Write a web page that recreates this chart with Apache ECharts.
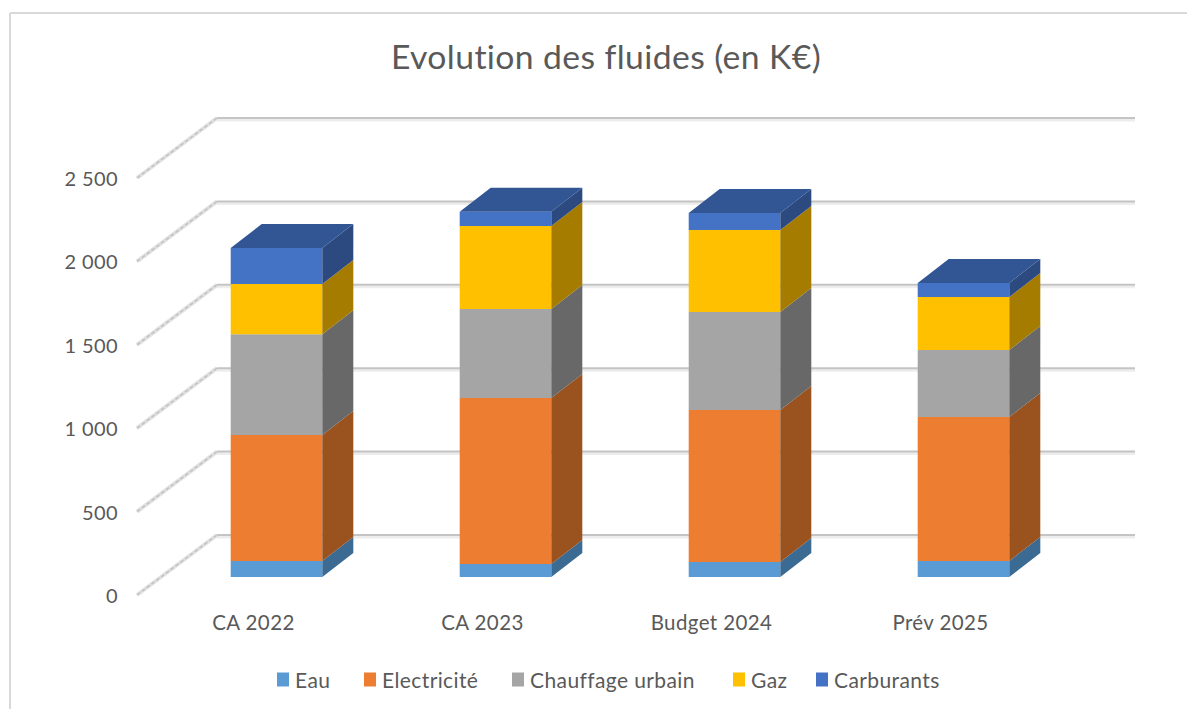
<!DOCTYPE html>
<html>
<head>
<meta charset="utf-8">
<title>Evolution des fluides</title>
<style>
  html, body { margin: 0; padding: 0; background: #fff; }
  #chart { width: 1187px; height: 709px; }
  #chart text { font-variant-ligatures: none; letter-spacing: 0.4px; }
</style>
<script src="https://cdn.jsdelivr.net/npm/echarts@6/dist/echarts.min.js"></script>
</head>
<body>
<div id="chart"></div>
<script>
const categories = ['CA 2022', 'CA 2023', 'Budget 2024', 'Prév 2025']
const yTicks = [0, 500, 1000, 1500, 2000, 2500]

const eau = [96, 78, 90, 96]
const electricite = [755, 995, 911, 863]
const chauffage = [605, 534, 588, 402]
const gaz = [300, 498, 492, 318]
const carburants = [216, 84, 102, 84]

const layers = [
  { name: 'Eau', values: eau, front: '#5b9bd5', side: '#3b6a93' },
  { name: 'Electricité', values: electricite, front: '#ed7d31', side: '#9a521f' },
  { name: 'Chauffage urbain', values: chauffage, front: '#a5a5a5', side: '#686868' },
  { name: 'Gaz', values: gaz, front: '#ffc000', side: '#a67c00' },
  { name: 'Carburants', values: carburants, front: '#4472c4', side: '#2c4a80', top: '#325594' }
]
const legendLeft = [272, 359, 507, 728, 811]

// floor/wall offsets of the fake 3D box
const wallDx = 80
const wallDy = -60
const wallWidth = 918
const barDx = 25
const barDy = -18
const depthDx = 31
const depthDy = -24

function renderWall(params, api) {
  const p = api.coord([0, api.value(0)])
  const x0 = params.coordSys.x
  const y0 = p[1]
  const bx = x0 + wallDx
  const by = y0 + wallDy
  return {
    type: 'group',
    children: [
      { type: 'line', shape: { x1: bx, y1: by + 2, x2: bx + wallWidth, y2: by + 2 }, style: { stroke: '#ededed', lineWidth: 3 } },
      { type: 'line', shape: { x1: bx, y1: by, x2: bx + wallWidth, y2: by }, style: { stroke: '#c4c4c4', lineWidth: 2 } },
      { type: 'line', shape: { x1: x0, y1: y0, x2: bx, y2: by }, style: { stroke: '#e2e2e2', lineWidth: 4 } },
      { type: 'line', shape: { x1: x0, y1: y0, x2: bx, y2: by }, style: { stroke: '#c2c2c2', lineWidth: 1.5, lineDash: [4, 2] } }
    ]
  }
}

function renderBar(layer) {
  return function(params, api) {
    const low = api.coord([api.value(0), api.value(1)])
    const high = api.coord([api.value(0), api.value(2)])
    const half = api.size([1, 0])[0] * 0.4 / 2
    const x1 = low[0] + barDx - half
    const x2 = low[0] + barDx + half
    const y1 = low[1] + barDy
    const y2 = high[1] + barDy
    const children = [
      { type: 'rect', shape: { x: x1, y: y2, width: x2 - x1, height: y1 - y2 }, style: { fill: layer.front } },
      {
        type: 'polygon',
        shape: { points: [[x2, y1], [x2 + depthDx, y1 + depthDy], [x2 + depthDx, y2 + depthDy], [x2, y2]] },
        style: { fill: layer.side }
      }
    ]
    if (layer.top) {
      children.push({
        type: 'polygon',
        shape: { points: [[x1, y2], [x1 + depthDx, y2 + depthDy], [x2 + depthDx, y2 + depthDy], [x2, y2]] },
        style: { fill: layer.top }
      })
    }
    return { type: 'group', children: children }
  }
}

const totals = categories.map(() => 0)
const barSeries = layers.map(layer => {
  const data = layer.values.map((v, i) => {
    const row = [i, totals[i], totals[i] + v]
    totals[i] += v
    return row
  })
  return {
    type: 'custom',
    name: layer.name,
    data: data,
    encode: { x: 0, y: [1, 2] },
    itemStyle: { color: layer.front },
    renderItem: renderBar(layer),
    z: 3
  }
})

const font = 'Lato, "Open Sans", sans-serif'
const chart = echarts.init(document.getElementById('chart'), null, { renderer: 'svg' })
chart.setOption({
  animation: false,
  backgroundColor: '#fff',
  textStyle: { fontFamily: font },
  title: {
    text: 'Evolution des fluides (en K€)',
    left: 601,
    top: 34,
    textAlign: 'center',
    textStyle: { color: '#595959', fontSize: 33.7, fontWeight: 'normal', fontFamily: font }
  },
  legend: layers.map((l, i) => ({
    data: [l.name],
    left: legendLeft[i],
    top: 664,
    icon: 'rect',
    itemWidth: 12,
    itemHeight: 14,
    itemStyle: { borderWidth: 0 },
    textStyle: { color: '#595959', fontSize: 21, fontFamily: font, padding: [0, 0, 0, 1] }
  })),
  grid: { left: 137, width: 916, top: 178, height: 417 },
  xAxis: {
    type: 'category',
    data: categories,
    axisLine: { show: false },
    axisTick: { show: false },
    splitLine: { show: false },
    axisLabel: { color: '#595959', fontSize: 20.5, margin: 16, padding: [0, 0, 0, 4], fontFamily: font }
  },
  yAxis: {
    type: 'value',
    min: 0,
    max: 2500,
    interval: 500,
    axisLine: { show: false },
    axisTick: { show: false },
    splitLine: { show: false },
    axisLabel: {
      color: '#595959',
      fontSize: 20,
      margin: 19,
      padding: [0, 0, 4, 0],
      fontFamily: font,
      formatter: v => String(v).replace(/\B(?=(\d{3})+$)/g, ' ')
    }
  },
  graphic: [
    { type: 'line', shape: { x1: 10, y1: 13, x2: 1187, y2: 13 }, style: { stroke: '#d9d9d9', lineWidth: 2 } },
    { type: 'line', shape: { x1: 10, y1: 13, x2: 10, y2: 709 }, style: { stroke: '#d9d9d9', lineWidth: 2 } }
  ],
  series: [
    {
      type: 'custom',
      name: 'grille',
      silent: true,
      data: yTicks.map(v => [v]),
      encode: { y: 0 },
      renderItem: renderWall,
      z: 1
    }
  ].concat(barSeries)
})
</script>
</body>
</html>
